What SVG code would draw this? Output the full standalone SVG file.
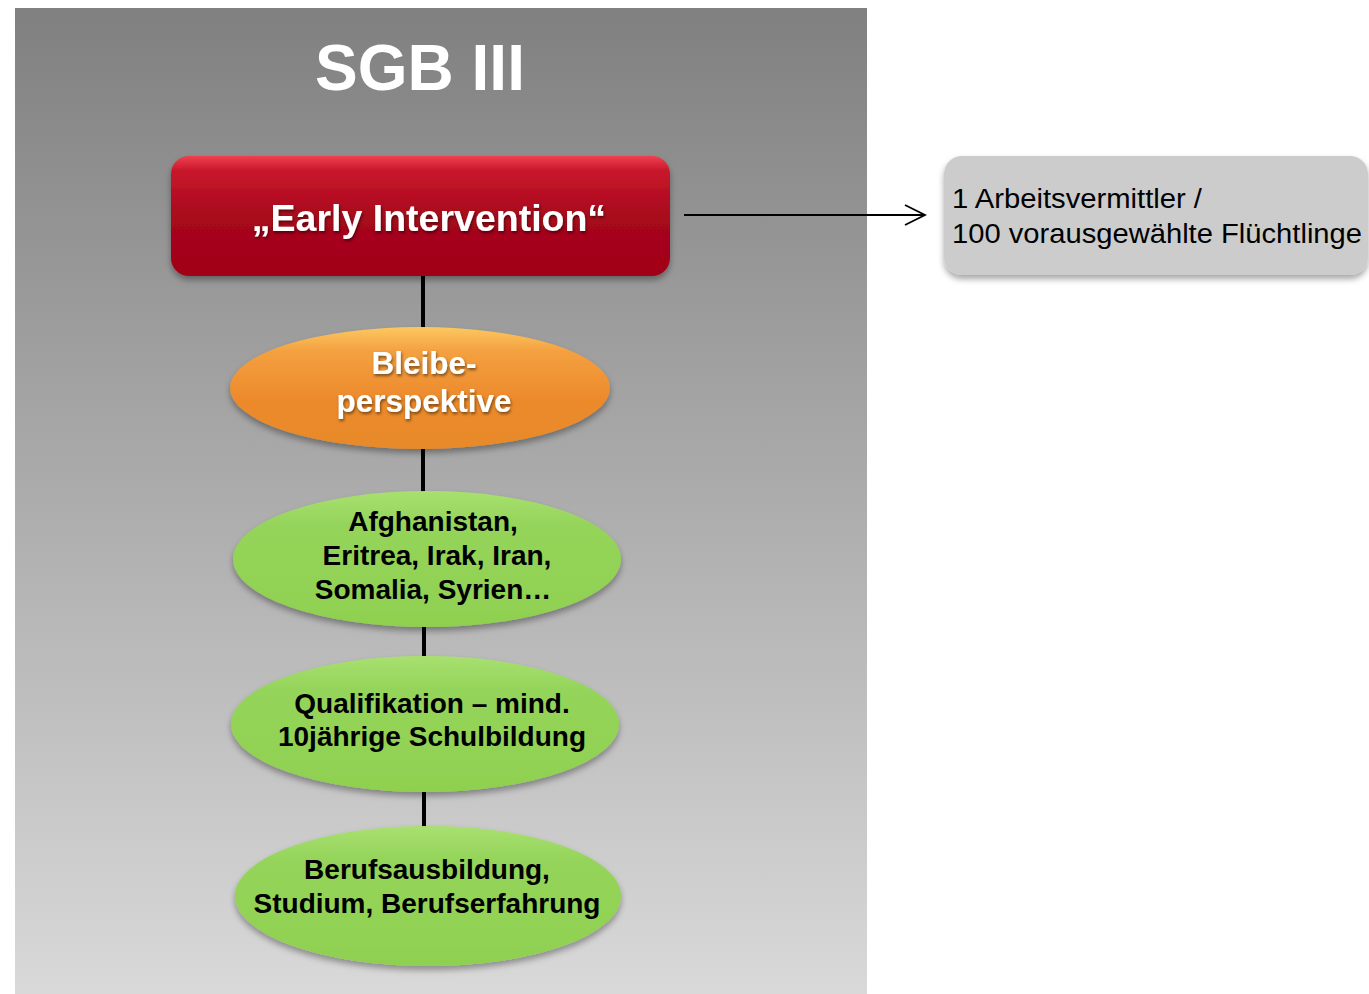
<svg xmlns="http://www.w3.org/2000/svg" width="1369" height="994" viewBox="0 0 1369 994">
<defs>
<linearGradient id="bg" x1="0" y1="0" x2="0" y2="1">
<stop offset="0" stop-color="#808080"/>
<stop offset="1" stop-color="#d9d9d9"/>
</linearGradient>
<linearGradient id="red" x1="0" y1="0" x2="0" y2="1">
<stop offset="0" stop-color="#f04050"/>
<stop offset="0.12" stop-color="#c8182c"/>
<stop offset="0.5" stop-color="#a8081c"/>
<stop offset="1" stop-color="#a00018"/>
</linearGradient>
<linearGradient id="orange" x1="0" y1="0" x2="0" y2="1">
<stop offset="0" stop-color="#fcc860"/>
<stop offset="0.2" stop-color="#f4a040"/>
<stop offset="0.6" stop-color="#ec8a2c"/>
<stop offset="1" stop-color="#e88a2a"/>
</linearGradient>
<linearGradient id="green" x1="0" y1="0" x2="0" y2="1">
<stop offset="0" stop-color="#a8e070"/>
<stop offset="0.25" stop-color="#94d45a"/>
<stop offset="1" stop-color="#90d050"/>
</linearGradient>
<filter id="sh" x="-10%" y="-10%" width="120%" height="130%">
<feDropShadow dx="0" dy="4" stdDeviation="3" flood-color="#000" flood-opacity="0.35"/>
</filter>
<filter id="tsh" x="-10%" y="-20%" width="120%" height="150%">
<feDropShadow dx="1" dy="2" stdDeviation="1.5" flood-color="#000" flood-opacity="0.5"/>
</filter>
<marker id="arr" markerWidth="24" markerHeight="24" refX="22" refY="12" orient="auto" markerUnits="userSpaceOnUse">
<path d="M2,2 L22,12 L2,22" fill="none" stroke="#000" stroke-width="1.8"/>
</marker>
<style>
.w{font-family:"Liberation Sans",Arial,sans-serif;font-weight:bold;fill:#fff;text-anchor:middle}
.b{font-family:"Liberation Sans",Arial,sans-serif;font-weight:bold;fill:#000;text-anchor:middle;font-size:28px}
.n{font-family:"Liberation Sans",Arial,sans-serif;fill:#000;font-size:27.5px}
.ln{stroke:#000;stroke-width:4;fill:none}
</style>
</defs>
<rect x="15" y="8" width="852" height="986" fill="url(#bg)"/>
<text class="w" x="420" y="90" font-size="64">SGB III</text>
<g id="connectors">
<line class="ln" x1="423" y1="276" x2="423" y2="328"/>
<line class="ln" x1="423" y1="449" x2="423" y2="492"/>
<line class="ln" x1="424" y1="626" x2="424" y2="657"/>
<line class="ln" x1="424" y1="792" x2="424" y2="827"/>
<line x1="684" y1="215" x2="925" y2="215" stroke="#000" stroke-width="1.8" marker-end="url(#arr)"/>
</g>
<g id="early">
<rect x="171" y="156" width="499" height="120" rx="18" fill="url(#red)" filter="url(#sh)"/>
<text class="w" x="429" y="231" font-size="37.5" filter="url(#tsh)">„Early Intervention“</text>
</g>
<g id="bleibe">
<ellipse cx="420" cy="388" rx="190" ry="61" fill="url(#orange)" filter="url(#sh)"/>
<text class="w" x="424" y="374" font-size="31.5" filter="url(#tsh)">Bleibe-</text>
<text class="w" x="424" y="412" font-size="31.5" filter="url(#tsh)">perspektive</text>
</g>
<g id="laender">
<ellipse cx="427" cy="559" rx="194" ry="68" fill="url(#green)" filter="url(#sh)"/>
<text class="b" x="433" y="531">Afghanistan,</text>
<text class="b" x="437" y="565">Eritrea, Irak, Iran,</text>
<text class="b" x="433" y="599">Somalia, Syrien…</text>
</g>
<g id="qualifikation">
<ellipse cx="425" cy="724" rx="194" ry="68" fill="url(#green)" filter="url(#sh)"/>
<text class="b" x="432" y="713">Qualifikation – mind.</text>
<text class="b" x="432" y="746">10jährige Schulbildung</text>
</g>
<g id="beruf">
<ellipse cx="428" cy="896" rx="193" ry="70" fill="url(#green)" filter="url(#sh)"/>
<text class="b" x="427" y="879">Berufsausbildung,</text>
<text class="b" x="427" y="913">Studium, Berufserfahrung</text>
</g>
<g id="vermittler">
<rect x="944" y="156" width="424" height="119" rx="18" fill="#cccccc" filter="url(#sh)"/>
<text class="n" x="952" y="208" textLength="250" lengthAdjust="spacingAndGlyphs">1 Arbeitsvermittler /</text>
<text class="n" x="952" y="243" textLength="410" lengthAdjust="spacingAndGlyphs">100 vorausgewählte Flüchtlinge</text>
</g>
</svg>
